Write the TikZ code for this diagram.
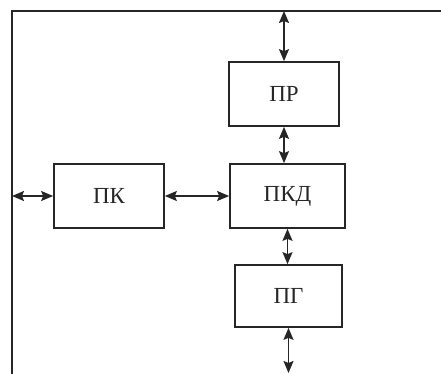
\documentclass[tikz,border=0pt]{standalone}
\usepackage{fontspec}
\setmainfont{Liberation Serif}
\usetikzlibrary{arrows.meta}
\begin{document}
\begin{tikzpicture}[x=1pt,y=-1pt,
  line width=1.7pt, draw={black!85},
  blk/.style={draw={black!85}, line width=1.7pt, rectangle, inner sep=0pt, font=\fontsize{23}{25}\selectfont, text=black!85},
  link/.style={line width=1.6pt, draw={black!85}, {Stealth[length=12pt,width=10pt,inset=2pt]}-{Stealth[length=12pt,width=10pt,inset=2pt]}}]
\useasboundingbox (0,0) rectangle (441,374);
\node[blk, minimum width=110, minimum height=64] (pr)  at (284,94)    {ПР};
\node[blk, minimum width=115, minimum height=64] (pkd) at (287.5,196) {ПКД};
\node[blk, minimum width=110, minimum height=64] (pk)  at (109,196)   {ПК};
\node[blk, minimum width=107, minimum height=62] (pg)  at (288.5,296) {ПГ};
\coordinate (fb)  at (12,374);
\coordinate (ftl) at (12,11);
\coordinate (ftr) at (441,11);
\coordinate (out) at (289,373);
\draw (fb) -- (ftl) -- (ftr);
\draw[link] (pr.north |- ftl) -- (pr.north);
\draw[link] (pr.south) -- (pr.south |- pkd.north);
\draw[link] (ftl |- pk.west) -- (pk.west);
\draw[link] (pk.east) -- (pkd.west);
\draw[link] (pkd.south) -- (pkd.south |- pg.north);
\draw[link] (pg.south) -- (pg.south |- out);
\end{tikzpicture}
\end{document}
